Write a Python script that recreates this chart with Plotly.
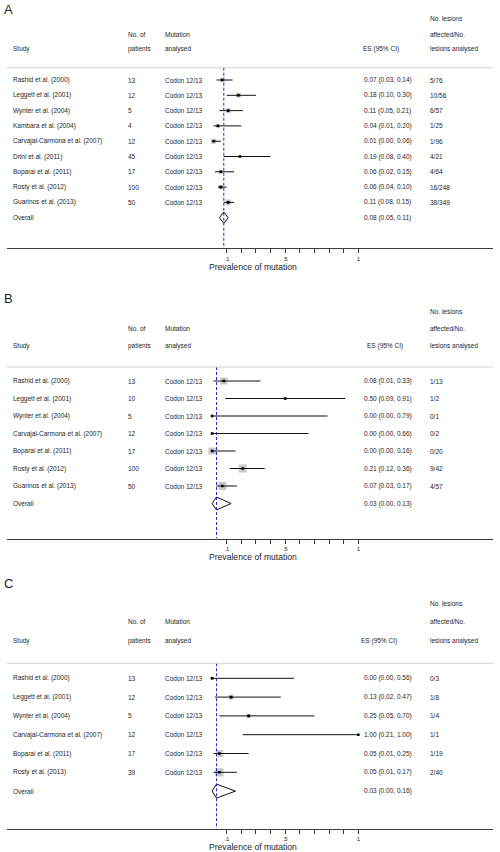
import math
import plotly.graph_objects as go

# ---------------- data ----------------
studies_A = ["Rashid et al. (2000)", "Leggett et al. (2001)", "Wynter et al. (2004)",
             "Kambara et al. (2004)", "Carvajal-Carmona et al. (2007)", "Drini et al. (2011)",
             "Boparai et al. (2011)", "Rosty et al. (2012)", "Guarinos et al. (2013)"]
patients_A = [13, 12, 5, 4, 12, 45, 17, 100, 50]
mutation_A = ["Codon 12/13"] * 9
es_A = [0.07, 0.18, 0.11, 0.04, 0.01, 0.19, 0.06, 0.06, 0.11]
lo_A = [0.03, 0.10, 0.05, 0.01, 0.00, 0.08, 0.02, 0.04, 0.08]
hi_A = [0.14, 0.30, 0.21, 0.20, 0.06, 0.40, 0.15, 0.10, 0.15]
lesions_A = ["5/76", "10/56", "6/57", "1/25", "1/96", "4/21", "4/64", "16/248", "38/349"]
weights_A = [8, 9, 9, 3.5, 9, 2.5, 6, 7, 12]
overall_A = [0.08, 0.05, 0.11]

studies_B = ["Rashid et al. (2000)", "Leggett et al. (2001)", "Wynter et al. (2004)",
             "Carvajal-Carmona et al. (2007)", "Boparai et al. (2011)", "Rosty et al. (2012)",
             "Guarinos et al. (2013)"]
patients_B = [13, 10, 5, 12, 17, 100, 50]
mutation_B = ["Codon 12/13"] * 7
es_B = [0.08, 0.50, 0.00, 0.00, 0.00, 0.21, 0.07]
lo_B = [0.01, 0.09, 0.00, 0.00, 0.00, 0.12, 0.03]
hi_B = [0.33, 0.91, 0.79, 0.66, 0.16, 0.36, 0.17]
lesions_B = ["1/13", "1/2", "0/1", "0/2", "0/20", "9/42", "4/57"]
weights_B = [18, 3, 2.5, 2.5, 19, 23, 23]
overall_B = [0.03, 0.00, 0.13]

studies_C = ["Rashid et al. (2000)", "Leggett et al. (2001)", "Wynter et al. (2004)",
             "Carvajal-Carmona et al. (2007)", "Boparai et al. (2011)", "Rosty et al. (2013)"]
patients_C = [13, 12, 5, 12, 17, 39]
mutation_C = ["Codon 12/13"] * 6
es_C = [0.00, 0.13, 0.25, 1.00, 0.05, 0.05]
lo_C = [0.00, 0.02, 0.05, 0.21, 0.01, 0.01]
hi_C = [0.56, 0.47, 0.70, 1.00, 0.25, 0.17]
lesions_C = ["0/3", "1/8", "1/4", "1/1", "1/19", "2/40"]
weights_C = [4, 9, 6, 1, 19, 25]
overall_C = [0.03, 0.00, 0.16]

tick_vals = [0.1, 0.2, 0.3, 0.4, 0.5, 0.6, 0.7, 0.8, 0.9, 1.0]
tick_text = [".1", "", "", "", ".5", "", "", "", "", "1"]
x_title = "Prevalence of mutation"

# ---------------- layout constants ----------------
W, H = 500, 852
FONT = "Liberation Sans, Arial, Helvetica, sans-serif"
TXT = "#1e1e1e"
FS = 6.5
X0_PX, X1_PX = 7, 493          # horizontal extent of axis line / separator
ZERO_PX, UNIT_PX = 212.1, 146.2  # pixel of value 0 and pixels per unit
COL_STUDY, COL_PAT, COL_MUT, COL_ES, COL_LES = 11.2, 126.2, 162.8, 361.7, 427.8

panels = [
    dict(label="A", studies=studies_A, patients=patients_A, mutation=mutation_A, es=es_A, lo=lo_A,
         hi=hi_A, lesions=lesions_A, weights=weights_A, overall=overall_A,
         row0=80.0, step=15.3, top=0.0, label_y=10.0, es_head=361.2),
    dict(label="B", studies=studies_B, patients=patients_B, mutation=mutation_B, es=es_B, lo=lo_B,
         hi=hi_B, lesions=lesions_B, weights=weights_B, overall=overall_B,
         row0=381.0, step=17.5, top=282.0, label_y=298.0, es_head=365.0),
    dict(label="C", studies=studies_C, patients=patients_C, mutation=mutation_C, es=es_C, lo=lo_C,
         hi=hi_C, lesions=lesions_C, weights=weights_C, overall=overall_C,
         row0=678.3, step=18.8, top=570.0, label_y=583.5, es_head=359.0),
]

def px_x(p):
    return p / W

def px_y(p):
    return 1 - p / H

x_range = [(X0_PX - ZERO_PX) / UNIT_PX, (X1_PX - ZERO_PX) / UNIT_PX]

fig = go.Figure()
annotations = []
shapes = []
layout_axes = {}

for i, P in enumerate(panels):
    sfx = "" if i == 0 else str(i + 1)
    xref, yref = "x" + sfx, "y" + sfx
    n = len(P["studies"])
    rows = list(range(n))
    bottom_k = n + 2
    bottom_px = P["row0"] + P["step"] * bottom_k
    top_k = (P["top"] - P["row0"]) / P["step"]

    layout_axes["xaxis" + sfx] = dict(
        domain=[px_x(X0_PX), px_x(X1_PX)], range=x_range, anchor=yref,
        showgrid=False, zeroline=False, showline=True, linecolor="#3a3a3a", linewidth=1,
        ticks="outside", ticklen=4, tickwidth=1, tickcolor="#3a3a3a",
        tickvals=tick_vals, ticktext=tick_text,
        tickfont=dict(family=FONT, size=6, color=TXT), fixedrange=True)
    layout_axes["yaxis" + sfx] = dict(
        domain=[px_y(bottom_px), px_y(P["top"])], range=[bottom_k, top_k], anchor=xref,
        visible=False, showgrid=False, zeroline=False, fixedrange=True)

    # weight boxes
    sizes = [1.65 * math.sqrt(w) for w in P["weights"]]
    fig.add_trace(go.Scatter(x=P["es"], y=rows, mode="markers", xaxis=xref, yaxis=yref,
                             marker=dict(symbol="square", size=sizes, color="#b0b0b0",
                                         line=dict(width=0)), hoverinfo="skip"))
    # CI lines
    cx, cy = [], []
    for k, (a, b) in enumerate(zip(P["lo"], P["hi"])):
        cx += [a, b, None]
        cy += [k, k, None]
    fig.add_trace(go.Scatter(x=cx, y=cy, mode="lines", xaxis=xref, yaxis=yref,
                             line=dict(color="#111111", width=1), hoverinfo="skip"))
    # point estimates
    fig.add_trace(go.Scatter(x=P["es"], y=rows, mode="markers", xaxis=xref, yaxis=yref,
                             marker=dict(symbol="square", size=2.6, color="#000000"),
                             hoverinfo="skip"))
    # overall diamond
    oe, ol, oh = P["overall"]
    hh = 0.37
    fig.add_trace(go.Scatter(x=[ol, oe, oh, oe, ol], y=[n, n - hh, n, n + hh, n],
                             mode="lines", xaxis=xref, yaxis=yref,
                             line=dict(color="#111111", width=1), hoverinfo="skip"))

    # dashed overall line
    shapes.append(dict(type="line", xref=xref, yref=yref, x0=oe, x1=oe, y0=-0.8, y1=bottom_k,
                       line=dict(color="#2a2ab8", width=1, dash="3px,2px")))
    # header separator
    shapes.append(dict(type="line", xref="paper", yref=yref, x0=px_x(X0_PX), x1=px_x(X1_PX),
                       y0=-0.8, y1=-0.8, line=dict(color="#d4d4d4", width=1)))

    def txt(text, xpx, k, size=FS):
        annotations.append(dict(text=text, x=px_x(xpx), y=k, xref="paper", yref=yref,
                                xanchor="left", yanchor="middle", showarrow=False,
                                font=dict(family=FONT, size=size, color=TXT)))

    # headers
    txt("Study", COL_STUDY, -2)
    txt("No. of", COL_PAT, -3)
    txt("patients", COL_PAT, -2)
    txt("Mutation", COL_MUT, -3)
    txt("analysed", COL_MUT, -2)
    txt("ES (95% CI)", P["es_head"], -2)
    txt("No. lesions", COL_LES, -4)
    txt("affected/No.", COL_LES, -3)
    txt("lesions analysed", COL_LES, -2)

    # rows
    for k in rows:
        txt(P["studies"][k], COL_STUDY, k)
        txt(str(P["patients"][k]), COL_PAT, k)
        txt(P["mutation"][k], COL_MUT, k)
        txt("%.2f (%.2f, %.2f)" % (P["es"][k], P["lo"][k], P["hi"][k]), COL_ES, k)
        txt(P["lesions"][k], COL_LES, k)
    txt("Overall", COL_STUDY, n)
    txt("%.2f (%.2f, %.2f)" % (oe, ol, oh), COL_ES, n)

    # panel letter
    annotations.append(dict(text=P["label"], x=px_x(2), y=px_y(P["label_y"]), xref="paper",
                            yref="paper", xanchor="left", yanchor="middle", showarrow=False,
                            font=dict(family=FONT, size=13, color=TXT)))
    # axis title
    annotations.append(dict(text=x_title, x=px_x(252.5), y=px_y(bottom_px + 18.5), xref="paper",
                            yref="paper", xanchor="center", yanchor="middle", showarrow=False,
                            font=dict(family=FONT, size=8.6, color=TXT)))

fig.update_layout(width=W, height=H, margin=dict(l=0, r=0, t=0, b=0),
                  paper_bgcolor="white", plot_bgcolor="white", showlegend=False,
                  hovermode=False,
                  annotations=annotations, shapes=shapes, **layout_axes)

fig.write_html("out.html",
               config={"displayModeBar": False, "staticPlot": True},
               post_script="document.body.style.margin='0';"
                           "document.body.style.padding='0';"
                           "document.documentElement.style.overflow='hidden';")
